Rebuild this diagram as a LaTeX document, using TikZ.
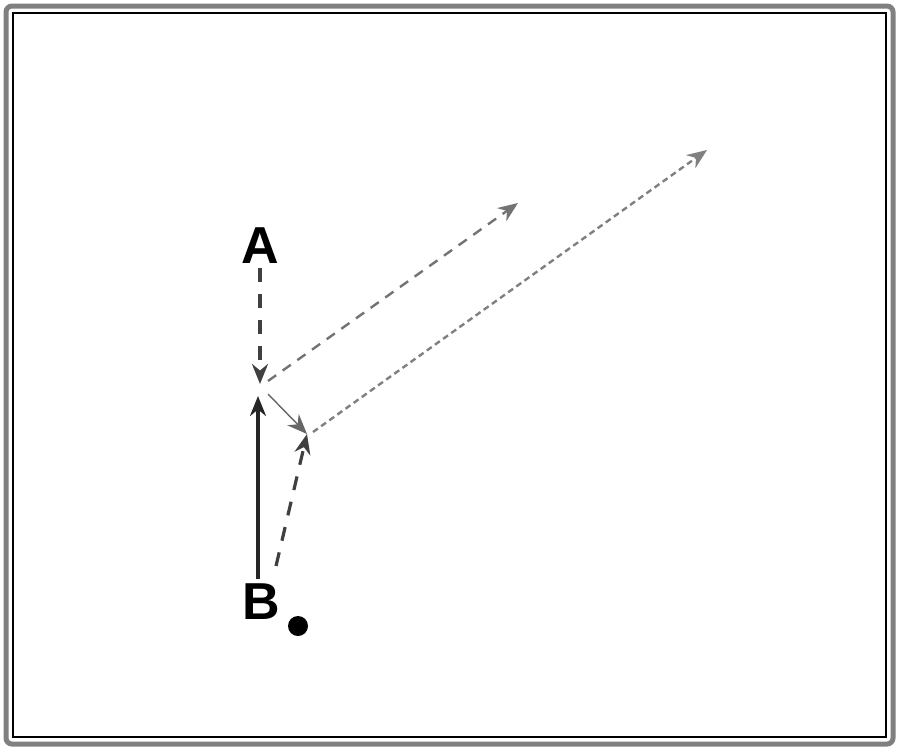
\documentclass[tikz,border=0pt]{standalone}
\usepackage{fontspec}
\setmainfont{Liberation Sans}
\usetikzlibrary{arrows.meta}
\begin{document}
\begin{tikzpicture}[x=0.5pt,y=-0.5pt,
  lbl/.style={font=\fontsize{26}{30}\selectfont\bfseries, inner sep=0pt},
  tip/.style={-{Stealth[length=10pt,width=8pt]}},
  dashline/.style={tip, dash pattern=on 7pt off 6pt, line width=1.6pt, draw=black!75},
  grayline/.style={tip, dash pattern=on 5pt off 4pt, line width=1.2pt, draw=black!55},
  dotline/.style={tip, dash pattern=on 3pt off 2pt, line width=1.2pt, draw=black!50},
  solidline/.style={tip, line width=1.8pt, draw=black!85},
  thinline/.style={tip, line width=0.7pt, draw=black!60}]
\useasboundingbox (0,0) rectangle (900,750);
\draw[line width=2.5pt, draw=black!50, rounded corners=3pt] (6,6) rectangle (893,744);
\draw[line width=0.8pt] (13,13) rectangle (886,737);
\node[lbl] (A) at (260,246) {A};
\node[lbl] (B) at (261,602) {B};
\node[circle, fill=black, minimum size=10pt, inner sep=0pt] (d) at (298,626) {};
\coordinate (O1) at (260,384);
\coordinate (P) at (258,396);
\coordinate (Q) at (307,434);
\coordinate (T1) at (518,203);
\coordinate (T2) at (707,150);
\coordinate (S) at (276,566);
\coordinate (O2) at (268,381);
\coordinate (P2) at (268,394);
\coordinate (Q2) at (313,432);
\coordinate (A1) at (260,268);
\coordinate (B1) at (258,579);
\draw[dashline] (A1) -- (O1);
\draw[solidline] (B1) -- (P);
\draw[grayline] (O2) -- (T1);
\draw[thinline] (P2) -- (Q);
\draw[dashline] (S) -- (Q);
\draw[dotline] (Q2) -- (T2);
\end{tikzpicture}
\end{document}
